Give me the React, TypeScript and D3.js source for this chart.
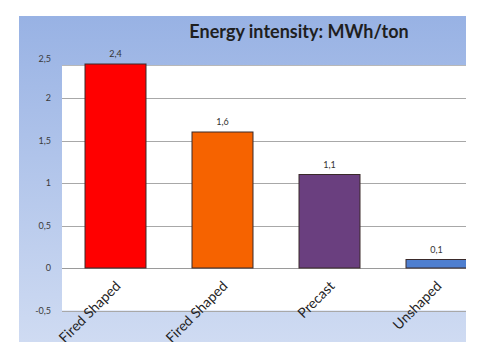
import React from 'react'
import * as d3 from 'd3'

const categories = ['Basic Fired Shaped', 'Non-basic Fired Shaped', 'Precast', 'Unshaped']
const values = [2.4, 1.6, 1.1, 0.1]
const valueLabels = ['2,4', '1,6', '1,1', '0,1']
const barColors = ['#ff0000', '#f66300', '#6a3f7f', '#4f7fd0']
const yTicks = [-0.5, 0, 0.5, 1, 1.5, 2, 2.5]
const yTickLabels = ['-0,5', '0', '0,5', '1', '1,5', '2', '2,5']
const title = 'Energy intensity: MWh/ton'

const W = 486
const H = 359
const panel = { x: 19, y: 16, w: 447, h: 326 }
const plotLeft = 62
const plotTop = 65

const App = () => {
    const x = d3.scaleBand<string>()
        .domain(categories)
        .range([plotLeft, plotLeft + 4 * 107])
        .paddingInner(0.43)
        .paddingOuter(0.215)

    const y = d3.scaleLinear()
        .domain([-0.5, 2.5])
        .range([310.5, 55.5])

    const font = 'Lato, "Open Sans", sans-serif'

    return (
        <svg width={W} height={H} style={{ position: 'absolute', left: 0, top: 0 }}>
            <defs>
                <linearGradient id="bg" x1="0" y1="0" x2="0" y2="1">
                    <stop offset="0" stopColor="#98b2e4" />
                    <stop offset="1" stopColor="#cfdbf2" />
                </linearGradient>
                <clipPath id="panelClip">
                    <rect x={panel.x} y={panel.y} width={panel.w} height={panel.h} />
                </clipPath>
            </defs>
            <rect width={W} height={H} fill="#fff" />
            <g clipPath="url(#panelClip)">
                <rect x={panel.x} y={panel.y} width={panel.w} height={panel.h} fill="url(#bg)" />
                <rect x={plotLeft} y={plotTop} width={W - plotLeft} height={y(-0.5) - plotTop} fill="#fff" />
                <line x1={plotLeft} x2={W} y1={plotTop + 0.5} y2={plotTop + 0.5} stroke="#b8b8b8" />
                {yTicks.filter(t => t < 2.5).map(t => (
                    <line key={t} x1={plotLeft} x2={W} y1={Math.round(y(t)) + 0.5} y2={Math.round(y(t)) + 0.5}
                        stroke={t === 0 ? '#9a9a9a' : '#a8a8a8'} strokeWidth={1} />
                ))}
                {yTicks.map((t, i) => (
                    <text key={t} x={51} y={y(t) + (t === 2.5 ? 3 : 0)} dy="0.35em" textAnchor="end"
                        fontFamily={font} fontSize={9} fill="#3a3a3a">{yTickLabels[i]}</text>
                ))}
                {categories.map((c, i) => (
                    <g key={c}>
                        <rect x={x(c)!} y={y(values[i])} width={x.bandwidth()} height={y(0) - y(values[i])}
                            fill={barColors[i]} stroke="#3a2a2a" strokeWidth={1} />
                        <text x={x(c)! + x.bandwidth() / 2} y={y(values[i]) - 7} textAnchor="middle"
                            fontFamily={font} fontSize={9} fill="#333">{valueLabels[i]}</text>
                        <text transform={`translate(${x(c)! + x.bandwidth() / 2 + 6}, ${y(0) + 19}) rotate(-45)`}
                            textAnchor="end" fontFamily={font} fontSize={14} fill="#222">{c}</text>
                    </g>
                ))}
                <text x={299} y={38} textAnchor="middle" fontFamily={font} fontWeight={700}
                    fontSize={18} fill="#1f1f1f">{title}</text>
            </g>
        </svg>
    )
}

export default App
